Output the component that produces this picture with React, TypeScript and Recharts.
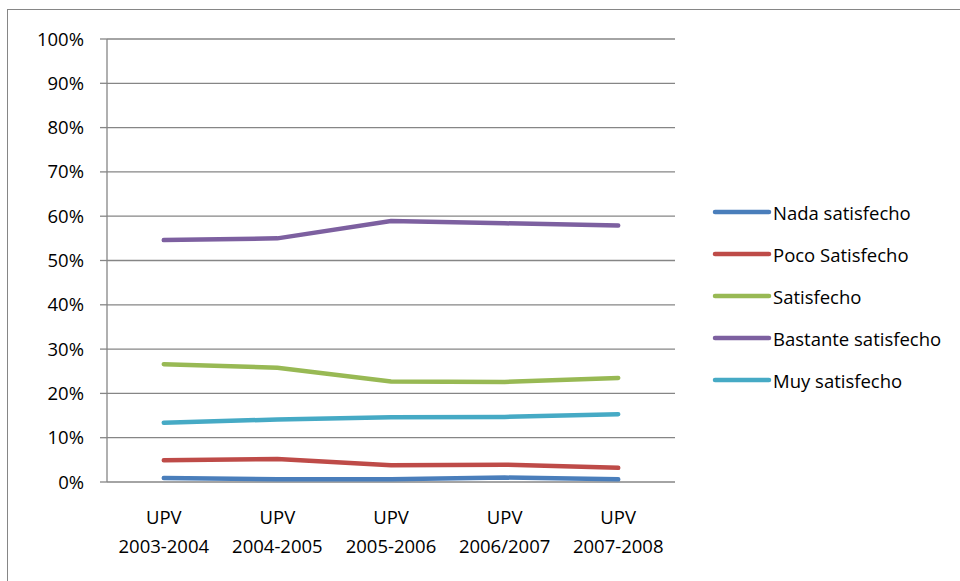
import React from 'react';
import { LineChart, Line, XAxis, YAxis, CartesianGrid } from 'recharts';

const catTop = ['UPV', 'UPV', 'UPV', 'UPV', 'UPV'];
const catBottom = ['2003-2004', '2004-2005', '2005-2006', '2006/2007', '2007-2008'];

const nada = [0.9, 0.6, 0.6, 1.0, 0.6];
const poco = [4.9, 5.2, 3.8, 3.9, 3.2];
const satisfecho = [26.6, 25.8, 22.7, 22.6, 23.5];
const bastante = [54.6, 55.0, 58.9, 58.4, 57.9];
const muy = [13.4, 14.1, 14.6, 14.7, 15.3];

const yTicks = [0, 10, 20, 30, 40, 50, 60, 70, 80, 90, 100];
const edgeTicks = [0, 1, 2, 3, 4, 5];

const seriesNames = ['Nada satisfecho', 'Poco Satisfecho', 'Satisfecho', 'Bastante satisfecho', 'Muy satisfecho'];
const seriesColors = ['#4A7EBB', '#BE4B48', '#98B954', '#7D60A0', '#46AAC5'];
const seriesValues = [nada, poco, satisfecho, bastante, muy];

const data = catBottom.map((c, i) => {
  const row: any = { cat: i };
  seriesNames.forEach((n, s) => {
    row[n] = seriesValues[s][i];
  });
  return row;
});

const FONT = 'Open Sans, sans-serif';
const AXIS = '#868686';
const FS = 18.5;

const CatTick = (props: any) => {
  const { x, y, payload } = props;
  const i = payload.value;
  return (
    <text x={x} y={y} textAnchor="middle" fill="#000" fontSize={FS} fontFamily={FONT}>
      <tspan x={x} dy={33.5}>{catTop[i]}</tspan>
      <tspan x={x} dy={29}>{catBottom[i]}</tspan>
    </text>
  );
};

const LegendBlock = () => (
  <div style={{ position: 'absolute', left: 711, top: 191, fontFamily: FONT, fontSize: FS }}>
    {seriesNames.map((n, s) => (
      <div key={n} style={{ height: 42, display: 'flex', alignItems: 'center' }}>
        <svg width={62} height={10} style={{ display: 'block' }}>
          <line x1={4} y1={5} x2={58} y2={5} stroke={seriesColors[s]} strokeWidth={4.5} strokeLinecap="round" />
        </svg>
        <span style={{ color: '#000', whiteSpace: 'nowrap' }}>{n}</span>
      </div>
    ))}
  </div>
);

export default function App() {
  return (
    <div style={{ position: 'absolute', left: 0, top: 0, width: 960, height: 581, overflow: 'hidden', background: '#fff' }}>
      <div style={{ position: 'absolute', left: 7, top: 9, width: 1000, height: 1000, border: `1px solid ${AXIS}` }} />
      <div style={{ position: 'absolute', left: 0, top: 0 }}>
        <LineChart
          width={960}
          height={581}
          data={data}
          margin={{ top: 39, right: 285, bottom: 0, left: 0 }}
          style={{ fontFamily: FONT }}
        >
          <CartesianGrid vertical={false} stroke={AXIS} strokeWidth={1.3} />
          <XAxis
            xAxisId="edge"
            type="number"
            domain={[0, 5]}
            ticks={edgeTicks}
            tick={false}
            tickSize={6}
            height={0}
            stroke={AXIS}
            axisLine={{ stroke: AXIS, strokeWidth: 1.3 }}
            tickLine={{ stroke: AXIS, strokeWidth: 1.3 }}
          />
          <XAxis
            dataKey="cat"
            type="category"
            scale="band"
            axisLine={false}
            tickLine={false}
            height={99}
            tick={<CatTick />}
            interval={0}
          />
          <YAxis
            domain={[0, 100]}
            ticks={yTicks}
            tickFormatter={(v: number) => `${v}%`}
            width={107}
            tickSize={7}
            tickMargin={16}
            axisLine={{ stroke: AXIS, strokeWidth: 1.3 }}
            tickLine={{ stroke: AXIS, strokeWidth: 1.3 }}
            tick={{ fill: '#000', fontSize: FS, fontFamily: FONT }}
          />
          {seriesNames.map((n, s) => (
            <Line
              key={n}
              type="linear"
              dataKey={n}
              stroke={seriesColors[s]}
              strokeWidth={4.5}
              strokeLinecap="round"
              dot={false}
              activeDot={false}
              isAnimationActive={false}
            />
          ))}
        </LineChart>
      </div>
      <LegendBlock />
    </div>
  );
}
